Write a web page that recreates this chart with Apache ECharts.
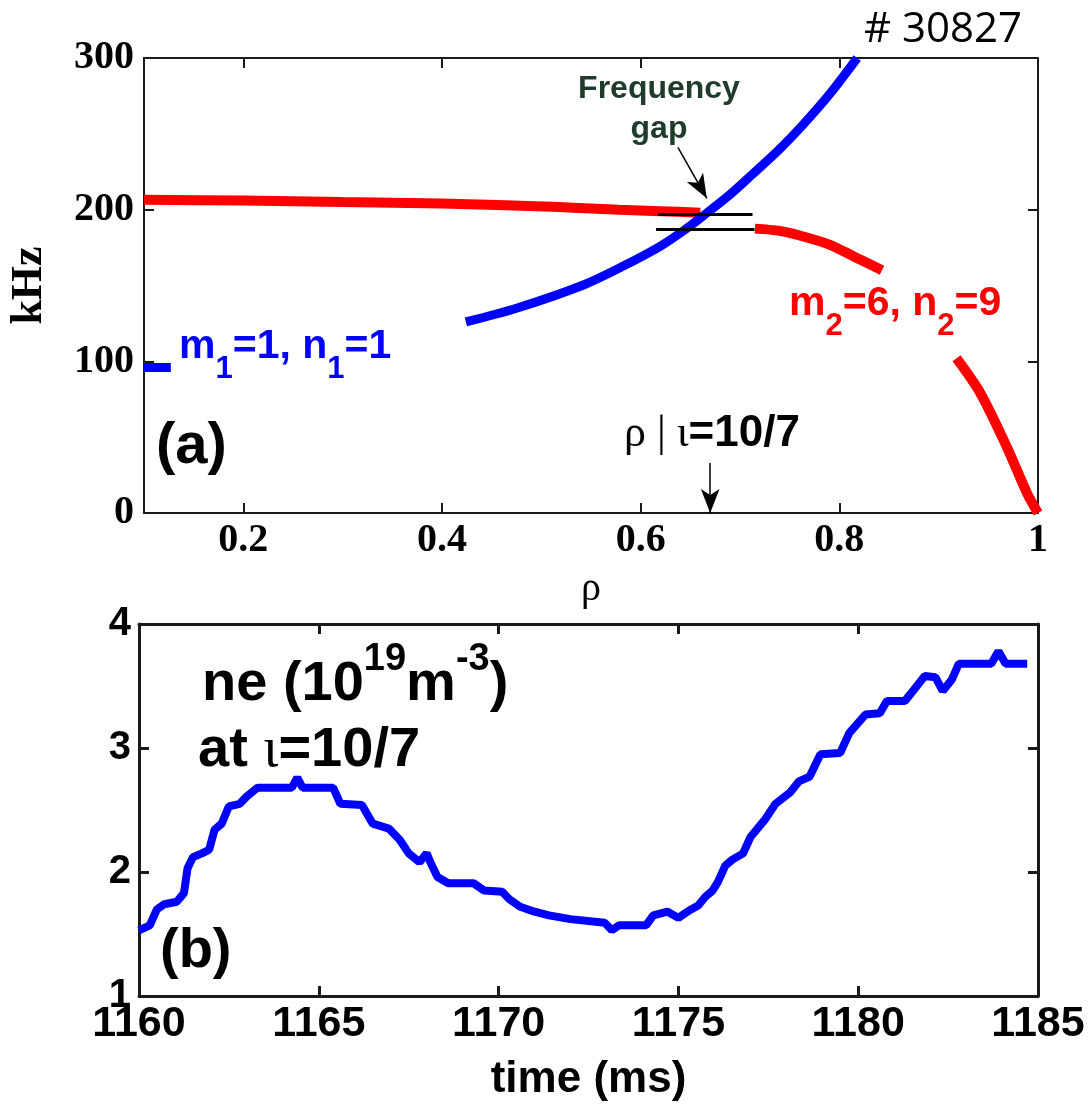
<!DOCTYPE html>
<html>
<head>
<meta charset="utf-8">
<script src="https://cdn.jsdelivr.net/npm/echarts@6/dist/echarts.min.js"></script>
<style>
  html, body { margin: 0; padding: 0; background: #fff; }
  #chart { width: 1089px; height: 1104px; }
</style>
</head>
<body>
<div id="chart"></div>
<script>
// panel (a): mode frequencies vs rho
const rhoTicks = [0.2, 0.4, 0.6, 0.8, 1];

const rhoBlueA = [0.1, 0.127];
const khzBlueA = [96, 96];
const rhoBlueB = [0.424, 0.475, 0.541, 0.583, 0.62, 0.645, 0.665, 0.69, 0.712, 0.74, 0.762, 0.79, 0.818];
const khzBlueB = [126, 135, 150, 163, 176, 187, 197, 210, 223, 240, 255, 276, 300];

const rhoRedA = [0.1, 0.2, 0.3, 0.4, 0.511, 0.578, 0.62, 0.66];
const khzRedA = [206.5, 206, 205, 204, 202, 200, 199, 198];
const rhoRedB = [0.715, 0.74, 0.76, 0.79, 0.815, 0.843];
const khzRedB = [187.5, 186, 183, 177, 169, 160];
const rhoRedC = [0.918, 0.942, 0.969, 0.989, 1.0];
const khzRedC = [102, 79, 43, 13, 0];

const rhoGapUpper = [0.6175, 0.7126];
const khzGapUpper = [196.8, 196.8];
const rhoGapLower = [0.6155, 0.7146];
const khzGapLower = [186.9, 186.9];

// panel (b): density at iota = 10/7
const timeMs = [
  1160.0, 1160.3, 1160.5, 1160.7, 1161.05, 1161.25, 1161.35, 1161.5, 1161.75, 1161.95,
  1162.1, 1162.3, 1162.5, 1162.8, 1163.0, 1163.3, 1164.25, 1164.4, 1164.55, 1165.4,
  1165.6, 1166.2, 1166.5, 1166.95, 1167.25, 1167.5, 1167.8, 1168.0, 1168.1, 1168.3,
  1168.6, 1169.3, 1169.6, 1170.1, 1170.3, 1170.6, 1171.0, 1171.4, 1172.0, 1172.95,
  1173.15, 1173.35, 1174.1, 1174.3, 1174.7, 1175.0, 1175.3, 1175.55, 1175.75, 1175.95,
  1176.1, 1176.3, 1176.5, 1176.8, 1177.0, 1177.4, 1177.7, 1178.1, 1178.35, 1178.65,
  1178.95, 1179.5, 1179.75, 1180.2, 1180.6, 1180.8, 1181.3, 1181.55, 1181.85, 1182.15,
  1182.35, 1182.6, 1182.8, 1183.7, 1183.9, 1184.1, 1184.7
];
const neValues = [
  1.53, 1.57, 1.70, 1.74, 1.76, 1.83, 2.03, 2.12, 2.15, 2.18,
  2.34, 2.39, 2.53, 2.55, 2.61, 2.68, 2.68, 2.76, 2.68, 2.68,
  2.55, 2.54, 2.39, 2.35, 2.26, 2.15, 2.08, 2.15, 2.08, 1.96,
  1.91, 1.91, 1.85, 1.84, 1.78, 1.72, 1.68, 1.65, 1.62, 1.59,
  1.53, 1.57, 1.57, 1.65, 1.68, 1.63, 1.69, 1.73, 1.80, 1.85,
  1.92, 2.05, 2.10, 2.15, 2.28, 2.42, 2.55, 2.64, 2.73, 2.77,
  2.95, 2.96, 3.12, 3.27, 3.28, 3.38, 3.38, 3.47, 3.58, 3.57,
  3.46, 3.55, 3.68, 3.68, 3.78, 3.68, 3.68
];

const serif = "'Liberation Serif', 'Times New Roman', serif";
const sans = "'Liberation Sans', Arial, sans-serif";

function pairs(xs, ys) {
  return xs.map((x, i) => [x, ys[i]]);
}

function frameAxis(gridIndex, position, lineWidth, extra) {
  return Object.assign({
    type: "value",
    gridIndex: gridIndex,
    position: position,
    axisLine: { show: true, onZero: false, lineStyle: { color: "#1a1a1a", width: lineWidth } },
    axisTick: { show: true, inside: true, length: 10, lineStyle: { color: "#1a1a1a", width: lineWidth } },
    axisLabel: { show: false },
    splitLine: { show: false }
  }, extra);
}

function curve(xs, ys, color, width) {
  return {
    type: "line",
    xAxisIndex: 0,
    yAxisIndex: 0,
    data: pairs(xs, ys),
    symbol: "none",
    smooth: 0.3,
    silent: true,
    lineStyle: { color: color, width: width, cap: "butt" }
  };
}

const myChart = echarts.init(document.getElementById("chart"));

const option = {
  animation: false,
  backgroundColor: "#ffffff",
  grid: [
    { left: 139, top: 58, width: 899, height: 455 },
    { left: 139, top: 624, width: 899, height: 372 }
  ],
  xAxis: [
    frameAxis(0, "bottom", 2, {
      min: 0.1, max: 1,
      axisTick: { show: true, inside: true, length: 10, customValues: rhoTicks, lineStyle: { color: "#1a1a1a", width: 2 } },
      axisLabel: {
        show: true, customValues: rhoTicks, margin: 8,
        fontFamily: serif, fontWeight: "bold", fontSize: 40, color: "#000"
      },
      name: "ρ", nameLocation: "middle", nameGap: 56,
      nameTextStyle: { fontFamily: serif, fontSize: 40, color: "#000" }
    }),
    frameAxis(0, "top", 2, {
      min: 0.1, max: 1,
      axisTick: { show: true, inside: true, length: 10, customValues: rhoTicks, lineStyle: { color: "#1a1a1a", width: 2 } }
    }),
    frameAxis(1, "bottom", 3, {
      min: 1160, max: 1185, interval: 5,
      axisLabel: {
        show: true, margin: 7,
        formatter: v => String(v),
        fontFamily: sans, fontWeight: "bold", fontSize: 43, color: "#000"
      },
      name: "time (ms)", nameLocation: "middle", nameGap: 62,
      nameTextStyle: { fontFamily: sans, fontWeight: "bold", fontSize: 44, color: "#000" }
    }),
    frameAxis(1, "top", 3, { min: 1160, max: 1185, interval: 5 })
  ],
  yAxis: [
    frameAxis(0, "left", 2, {
      min: 0, max: 300, interval: 100,
      axisLabel: {
        show: true, margin: 10,
        fontFamily: serif, fontWeight: "bold", fontSize: 40, color: "#000"
      },
      name: "kHz", nameLocation: "middle", nameGap: 92,
      nameTextStyle: { fontFamily: serif, fontWeight: "bold", fontSize: 44, color: "#000" }
    }),
    frameAxis(0, "right", 2, { min: 0, max: 300, interval: 100 }),
    frameAxis(1, "left", 3, {
      min: 1, max: 4, interval: 1,
      axisLabel: {
        show: true, margin: 8,
        fontFamily: sans, fontWeight: "bold", fontSize: 40, color: "#000"
      }
    }),
    frameAxis(1, "right", 3, { min: 1, max: 4, interval: 1 })
  ],
  series: [
    curve(rhoRedA, khzRedA, "#ff0000", 10),
    curve(rhoRedB, khzRedB, "#ff0000", 10),
    curve(rhoRedC, khzRedC, "#ff0000", 10),
    curve(rhoBlueA, khzBlueA, "#0000ff", 9),
    curve(rhoBlueB, khzBlueB, "#0000ff", 9),
    curve(rhoGapUpper, khzGapUpper, "#000000", 3),
    Object.assign(curve(rhoGapLower, khzGapLower, "#000000", 3), {
      markLine: {
        silent: true,
        symbol: ["none", "arrow"],
        symbolSize: [14, 24],
        label: { show: false },
        lineStyle: { color: "#000", width: 1.5, type: "solid" },
        data: [
          [{ coord: [0.6375, 241] }, { coord: [0.6666, 207.5] }],
          [{ coord: [0.67, 33] }, { coord: [0.67, 0] }]
        ]
      }
    }),
    {
      type: "line",
      xAxisIndex: 2,
      yAxisIndex: 2,
      data: pairs(timeMs, neValues),
      symbol: "none",
      silent: true,
      lineStyle: { color: "#0000ff", width: 8 }
    }
  ],
  graphic: {
    elements: [
      {
        type: "text", x: 864, y: 30,
        style: { text: "# 30827", fontFamily: "'Open Sans', sans-serif", fontSize: 42, fill: "#000", verticalAlign: "middle" }
      },
      {
        type: "text", x: 659, y: 69,
        style: {
          text: "Frequency\ngap", align: "center", verticalAlign: "top",
          fontFamily: sans, fontWeight: "bold", fontSize: 32, lineHeight: 40, fill: "#1f3b2a"
        }
      },
      {
        type: "text", x: 179, y: 326,
        style: {
          text: "{a|m}{s|1}{a|=1, n}{s|1}{a|=1}{sp|\u200b}",
          verticalAlign: "top",
          rich: {
            a: { fontFamily: sans, fontWeight: "bold", fontSize: 41, lineHeight: 40, verticalAlign: "top", fill: "#0000ff" },
            s: { fontFamily: sans, fontWeight: "bold", fontSize: 31, lineHeight: 30, verticalAlign: "bottom", fill: "#0000ff" },
            sp: { fontSize: 10, lineHeight: 59 }
          }
        }
      },
      {
        type: "text", x: 789, y: 283,
        style: {
          text: "{a|m}{s|2}{a|=6, n}{s|2}{a|=9}{sp|\u200b}",
          verticalAlign: "top",
          rich: {
            a: { fontFamily: sans, fontWeight: "bold", fontSize: 41, lineHeight: 40, verticalAlign: "top", fill: "#ff0000" },
            s: { fontFamily: sans, fontWeight: "bold", fontSize: 31, lineHeight: 30, verticalAlign: "bottom", fill: "#ff0000" },
            sp: { fontSize: 10, lineHeight: 59 }
          }
        }
      },
      {
        type: "text", x: 156, y: 447,
        style: { text: "(a)", fontFamily: sans, fontWeight: "bold", fontSize: 58, fill: "#000", verticalAlign: "middle" }
      },
      {
        type: "text", x: 624, y: 434,
        style: {
          text: "{g|ρ | ι}{a|=10/7}",
          verticalAlign: "middle",
          rich: {
            g: { fontFamily: serif, fontSize: 44, fill: "#000" },
            a: { fontFamily: sans, fontWeight: "bold", fontSize: 44, fill: "#000" }
          }
        }
      },
      {
        type: "text", x: 202, y: 641,
        style: {
          text: "{a|ne (10}{p|19}{a|m}{p|-3}{a|)}{sp|\u200b}",
          verticalAlign: "top",
          rich: {
            a: { fontFamily: sans, fontWeight: "bold", fontSize: 56, lineHeight: 56, verticalAlign: "bottom", fill: "#000" },
            p: { fontFamily: sans, fontWeight: "bold", fontSize: 38, lineHeight: 38, verticalAlign: "top", fill: "#000" },
            sp: { fontSize: 10, lineHeight: 72 }
          }
        }
      },
      {
        type: "text", x: 198, y: 751,
        style: {
          text: "{a|at }{g|ι}{a|=10/7}",
          verticalAlign: "middle",
          rich: {
            a: { fontFamily: sans, fontWeight: "bold", fontSize: 56, fill: "#000" },
            g: { fontFamily: serif, fontSize: 56, fill: "#000" }
          }
        }
      },
      {
        type: "text", x: 160, y: 952,
        style: { text: "(b)", fontFamily: sans, fontWeight: "bold", fontSize: 56, fill: "#000", verticalAlign: "middle" }
      }
    ]
  }
};

myChart.setOption(option);
</script>
</body>
</html>
